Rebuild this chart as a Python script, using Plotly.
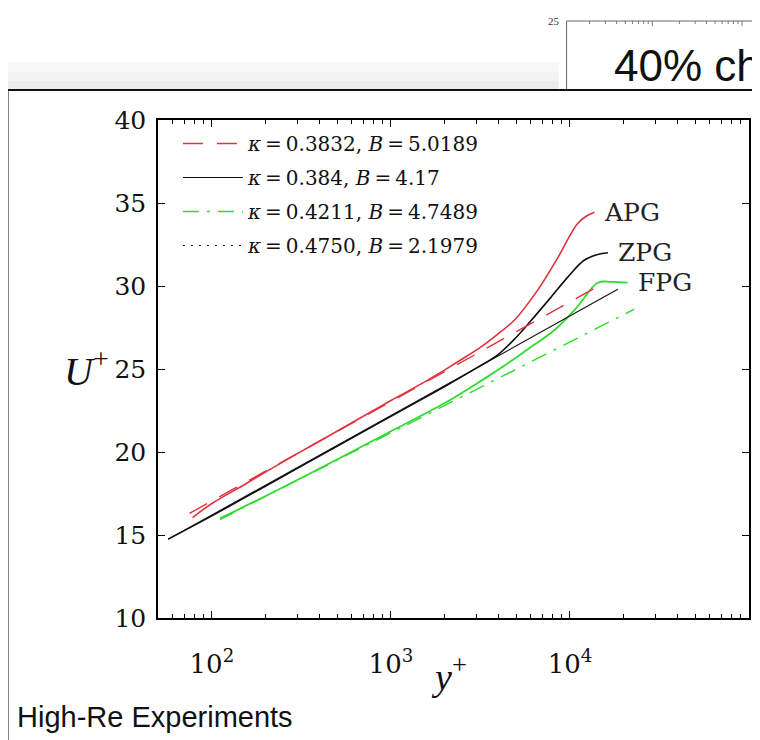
import math
import plotly.graph_objects as go

# ---------------- data ----------------
apg_yplus = [78, 100, 150, 200, 300, 500, 700, 1000, 1500, 2000, 2500, 3200, 4000, 4900, 6600, 8600, 11000, 12500, 13700]
apg_u     = [16.05, 16.9, 18.0, 18.8, 19.9, 21.25, 22.15, 23.1, 24.15, 24.95, 25.6, 26.35, 27.15, 27.95, 29.75, 31.75, 33.75, 34.25, 34.45]

zpg_yplus = [57, 100, 200, 500, 1000, 2000, 3000, 4000, 5000, 6100, 7800, 9750, 12000, 14300, 16300]
zpg_u     = [14.75, 16.15, 17.95, 20.35, 22.15, 23.95, 25.05, 25.9, 26.9, 27.95, 29.3, 30.55, 31.55, 31.9, 32.0]

fpg_yplus = [111, 200, 500, 1000, 2000, 3200, 4500, 6100, 8200, 11000, 14300, 17000, 21000]
fpg_u     = [16.0, 17.35, 19.55, 21.25, 22.95, 24.3, 25.35, 26.35, 27.35, 28.75, 30.2, 30.25, 30.2]

# log-law fits (straight lines on the semilog axes: end points)
law_red_yplus   = [75, 15600]
law_red_u       = [16.3, 30.2]
law_black_yplus = [57, 18500]
law_black_u     = [14.74, 29.8]
law_green_yplus = [111, 22900]
law_green_u     = [15.93, 28.6]
law_dot_yplus   = []   # not visible inside the axes
law_dot_u       = []

TS = "\u2009"
legend_labels = [
    f"<i>κ</i>{TS}={TS}0.3832, <i>B</i>{TS}={TS}5.0189",
    f"<i>κ</i>{TS}={TS}0.384, <i>B</i>{TS}={TS}4.17",
    f"<i>κ</i>{TS}={TS}0.4211, <i>B</i>{TS}={TS}4.7489",
    f"<i>κ</i>{TS}={TS}0.4750, <i>B</i>{TS}={TS}2.1979",
]
curve_labels = ["APG", "ZPG", "FPG"]

x_tickvals = [100, 1000, 10000]
x_ticktext = ["10<sup>2</sup>", "10<sup>3</sup>", "10<sup>4</sup>"]
x_minor = [m * d for d in (10, 100, 1000, 10000) for m in range(2, 10) if 50 <= m * d <= 100000]
y_tickvals = [10, 15, 20, 25, 30, 35, 40]

RED = "#e2323c"
GREEN = "#2fdc2f"
BLACK = "#111111"

# ---------------- layout geometry (screen pixels; page has an 8px body margin) ----------------
OFF = 8
SW, SH = 760, 740
W, H = SW - OFF, SH - OFF
L, R, T, B = 158, 751, 120, 618
PW, PH = R - L, B - T


def px(x):
    return (x - L) / PW


def py(y):
    return (B - y) / PH


fig = go.Figure()

# data curves
fig.add_trace(go.Scatter(x=apg_yplus, y=apg_u, mode="lines", line=dict(color=RED, width=1.6),
                         showlegend=False, line_shape="spline"))
fig.add_trace(go.Scatter(x=zpg_yplus, y=zpg_u, mode="lines", line=dict(color=BLACK, width=1.6),
                         showlegend=False, line_shape="spline"))
fig.add_trace(go.Scatter(x=fpg_yplus, y=fpg_u, mode="lines", line=dict(color=GREEN, width=1.8),
                         showlegend=False, line_shape="spline"))

# log laws (legend entries)
fig.add_trace(go.Scatter(x=law_red_yplus, y=law_red_u, mode="lines", name=legend_labels[0],
                         legendgroup="a", line=dict(color=RED, width=1.4, dash="20px,14px")))
fig.add_trace(go.Scatter(x=law_black_yplus, y=law_black_u, mode="lines", name=legend_labels[1],
                         legendgroup="b", line=dict(color=BLACK, width=1.1)))
fig.add_trace(go.Scatter(x=law_green_yplus, y=law_green_u, mode="lines", name=legend_labels[2],
                         legendgroup="c", line=dict(color=GREEN, width=1.4, dash="16px,8px,3px,8px")))
fig.add_trace(go.Scatter(x=law_dot_yplus or [None], y=law_dot_u or [None], mode="lines", name=legend_labels[3],
                         legendgroup="d", line=dict(color=BLACK, width=1.2, dash="2px,6px")))

serif = "DejaVu Serif"

# curve labels
label_pos = [(apg_yplus[-1], apg_u[-1]), (zpg_yplus[-1], zpg_u[-1]), (fpg_yplus[-1], fpg_u[-1])]
for txt, (xv, yv) in zip(curve_labels, label_pos):
    fig.add_annotation(x=math.log10(xv), y=yv, text=txt, showarrow=False, xanchor="left",
                       yanchor="middle", xshift=8,
                       font=dict(family=serif, size=25, color="#222"))

fig.update_xaxes(type="log", range=[math.log10(50), 5], tickmode="array", tickvals=x_tickvals,
                 ticktext=x_ticktext, ticks="inside", ticklen=7, tickwidth=1, tickcolor="#000",
                 showline=True, linecolor="#000", linewidth=1.5, mirror="ticks", showgrid=False,
                 zeroline=False, ticklabelstandoff=22,
                 tickfont=dict(family=serif, size=26, color="#111"),
                 minor=dict(tickmode="array", tickvals=x_minor, ticks="inside", ticklen=4,
                            tickcolor="#000", tickwidth=1, showgrid=False))
fig.update_yaxes(range=[10, 40], tickmode="array", tickvals=y_tickvals, ticks="inside", ticklen=7,
                 tickwidth=1, tickcolor="#000", showline=True, linecolor="#000", linewidth=1.5,
                 mirror="ticks", showgrid=False, zeroline=False, ticklabelstandoff=5,
                 tickfont=dict(family=serif, size=25, color="#111"))

# axis titles as horizontal text
fig.add_annotation(x=px(111), y=py(368), xref="paper", yref="paper", text="<i>U</i><sup>+</sup>",
                   showarrow=False, xanchor="right", yanchor="middle",
                   font=dict(family="Liberation Serif", size=40, color="#111"))
fig.add_annotation(x=px(450), y=py(700), xref="paper", yref="paper", text="<i>y</i><sup>+</sup>",
                   showarrow=False, font=dict(family="Liberation Serif", size=38, color="#111"))

# slide decorations
shapes = []
for y0, y1, op in [(62, 72, 0.25), (72, 81, 0.45), (81, 90, 0.7)]:
    shapes.append(dict(type="rect", xref="paper", yref="paper", x0=px(0), x1=px(560),
                       y0=py(y1), y1=py(y0), line=dict(width=0), fillcolor=f"rgba(228,228,228,{op})",
                       layer="below"))
shapes.append(dict(type="line", xref="paper", yref="paper", x0=px(568), x1=px(568), y0=py(21), y1=py(90),
                   line=dict(color="#666", width=1)))
shapes.append(dict(type="line", xref="paper", yref="paper", x0=px(568), x1=px(765), y0=py(21), y1=py(21),
                   line=dict(color="#666", width=1)))
for dec0 in (564, 654, 744):
    for k in range(1, 10):
        xx = dec0 + 90 * math.log10(k)
        if 570 < xx < 760:
            ln = 5 if k == 1 else 3
            shapes.append(dict(type="line", xref="paper", yref="paper", x0=px(xx), x1=px(xx),
                               y0=py(21), y1=py(21 + ln), line=dict(color="#777", width=1)))
shapes.append(dict(type="rect", xref="paper", yref="paper", x0=px(7), x1=px(790), y0=py(790), y1=py(90),
                   line=dict(color="#111", width=2)))
fig.update_layout(shapes=shapes)

fig.add_annotation(x=px(555), y=py(21), xref="paper", yref="paper", text="25", showarrow=False,
                   font=dict(family="Liberation Serif", size=11, color="#333"), xanchor="center",
                   yanchor="middle")
fig.add_annotation(x=px(614), y=py(66), xref="paper", yref="paper", text="40% change",
                   showarrow=False, xanchor="left", yanchor="middle",
                   font=dict(family="Liberation Sans", size=44, color="#111"))
fig.add_annotation(x=px(15), y=py(717), xref="paper", yref="paper", text="High-Re Experiments",
                   showarrow=False, xanchor="left", yanchor="middle",
                   font=dict(family="Liberation Sans", size=29, color="#111"))

fig.update_layout(
    width=W, height=H,
    margin=dict(l=L - OFF, r=SW - R, t=T - OFF, b=SH - B, pad=0),
    paper_bgcolor="white", plot_bgcolor="white",
    legend=dict(x=px(178), y=py(124), xanchor="left", yanchor="top", bgcolor="rgba(0,0,0,0)",
                font=dict(family=serif, size=20, color="#111"), itemwidth=60,
                traceorder="grouped", tracegroupgap=5),
)

fig.write_html("out.html")
